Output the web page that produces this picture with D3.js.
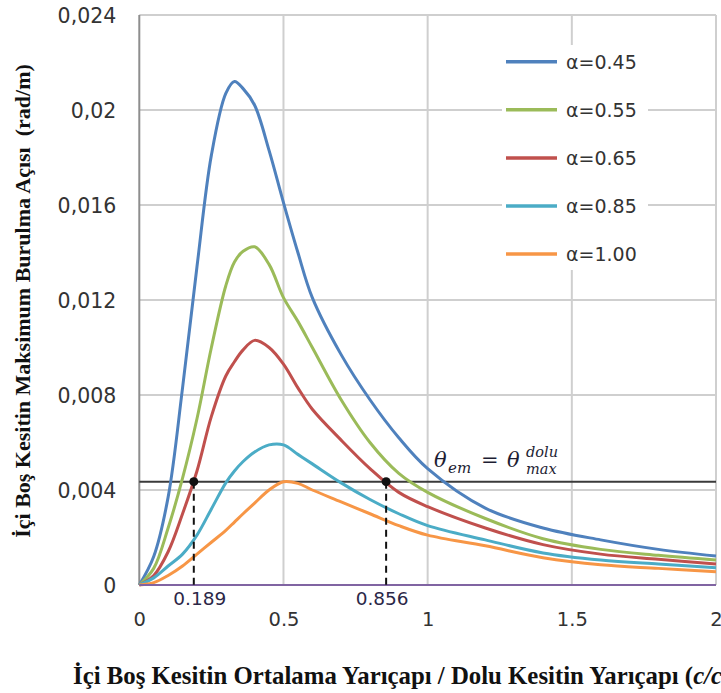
<!DOCTYPE html>
<html>
<head>
<meta charset="utf-8">
<script src="https://cdn.jsdelivr.net/npm/d3@7"></script>
<style>
  body { margin: 0; background: #fff; }
  svg { display: block; }
</style>
</head>
<body>
<svg id="chart" width="721" height="693"></svg>
<script>
// c/c0 ratio sampled along the horizontal axis
const ratio = [0, 0.05, 0.1, 0.15, 0.2, 0.25, 0.3, 0.33, 0.36, 0.4, 0.45, 0.5, 0.55, 0.6, 0.7, 0.8, 0.9, 1.0, 1.2, 1.4, 1.6, 1.8, 2.0];

// maximum twist angle (rad/m) of the hollow section for each alpha
const twistA045 = [0, 0.0012, 0.0037, 0.0083, 0.0134, 0.0181, 0.0207, 0.0212, 0.0209, 0.0202, 0.0183, 0.0161, 0.0140, 0.0121, 0.0097, 0.0078, 0.0062, 0.0049, 0.00324, 0.0024, 0.0019, 0.0015, 0.00122];
const twistA055 = [0, 0.0007, 0.0024, 0.0045, 0.0070, 0.0100, 0.0126, 0.0136, 0.01405, 0.01424, 0.0135, 0.0121, 0.0111, 0.0100, 0.0078, 0.0060, 0.0047, 0.0039, 0.0028, 0.00195, 0.0015, 0.00125, 0.00105];
const twistA065 = [0, 0.0004, 0.0014, 0.0030, 0.0048, 0.0071, 0.0088, 0.0094, 0.0099, 0.0103, 0.0100, 0.0093, 0.0083, 0.0074, 0.0061, 0.0049, 0.0039, 0.0033, 0.0024, 0.0017, 0.0013, 0.00108, 0.00088];
const twistA085 = [0, 0.0003, 0.0008, 0.0013, 0.0021, 0.0032, 0.0043, 0.0048, 0.0052, 0.0056, 0.0059, 0.0059, 0.0055, 0.0051, 0.0043, 0.0036, 0.0030, 0.0025, 0.0019, 0.00135, 0.00105, 0.00088, 0.00073];
const twistA100 = [0, 0.0001, 0.0004, 0.0008, 0.0013, 0.0018, 0.0023, 0.00265, 0.0030, 0.00345, 0.0040, 0.00435, 0.00428, 0.0040, 0.0035, 0.0030, 0.0025, 0.0021, 0.00165, 0.00115, 0.00085, 0.00070, 0.00056];

const seriesNames = ["α=0.45", "α=0.55", "α=0.65", "α=0.85", "α=1.00"];
const seriesColors = ["#4f81bd", "#9bbb59", "#c0504d", "#4bacc6", "#f79646"];
const seriesValues = [twistA045, twistA055, twistA065, twistA085, twistA100];

// twist of the solid section and the ratios where alpha=0.65 reaches it
const solidMaxTwist = 0.00435;
const crossingRatios = [0.189, 0.856];
const crossingLabels = ["0.189", "0.856"];

const xTickValues = [0, 0.5, 1, 1.5, 2];
const xTickLabels = ["0", "0.5", "1", "1.5", "2"];
const yTickValues = [0, 0.004, 0.008, 0.012, 0.016, 0.02, 0.024];
const yTickLabels = ["0", "0,004", "0,008", "0,012", "0,016", "0,02", "0,024"];

const svg = d3.select("#chart");
const plotLeft = 139.3, plotRight = 716, plotTop = 15, plotBottom = 585;

const x = d3.scaleLinear().domain([0, 2]).range([plotLeft, plotRight]);
const y = d3.scaleLinear().domain([0, 0.024]).range([plotBottom, plotTop]);

// grid
const grid = svg.append("g");
grid.selectAll("line.h").data(yTickValues.filter(v => v > 0)).join("line")
  .attr("class", "h")
  .attr("x1", plotLeft).attr("x2", plotRight)
  .attr("y1", d => y(d)).attr("y2", d => y(d))
  .attr("stroke", "#cfcfcf").attr("stroke-width", 2);
grid.selectAll("line.v").data(xTickValues.filter(v => v > 0)).join("line")
  .attr("class", "v")
  .attr("x1", d => x(d)).attr("x2", d => x(d))
  .attr("y1", plotTop).attr("y2", plotBottom)
  .attr("stroke", "#cfcfcf").attr("stroke-width", 2);

// vertical axis line
svg.append("line")
  .attr("x1", x(0)).attr("x2", x(0)).attr("y1", plotTop).attr("y2", plotBottom)
  .attr("stroke", "#8e8e8e").attr("stroke-width", 2);

// y tick labels
const yAxis = d3.axisLeft(y).tickValues(yTickValues)
  .tickFormat((d, i) => yTickLabels[i]).tickSize(0).tickPadding(23);
const gy = svg.append("g").attr("transform", `translate(${plotLeft},0)`).call(yAxis);
gy.select(".domain").remove();
gy.selectAll("text")
  .attr("font-family", "DejaVu Sans, sans-serif").attr("font-size", 20.5)
  .attr("fill", "#333").attr("dy", "0.38em");

// x tick labels
const xAxis = d3.axisBottom(x).tickValues(xTickValues)
  .tickFormat((d, i) => xTickLabels[i]).tickSize(0).tickPadding(27);
const gx = svg.append("g").attr("transform", `translate(0,${plotBottom})`).call(xAxis);
gx.select(".domain").remove();
gx.selectAll("text")
  .attr("font-family", "DejaVu Sans, sans-serif").attr("font-size", 19.5)
  .attr("fill", "#333");

// reference line of the solid section
svg.append("line")
  .attr("x1", x(0)).attr("x2", x(2))
  .attr("y1", y(solidMaxTwist)).attr("y2", y(solidMaxTwist))
  .attr("stroke", "#3a3a3a").attr("stroke-width", 2);

// curves
const line = d3.line()
  .x((d, i) => x(ratio[i]))
  .y(d => y(d))
  .curve(d3.curveCatmullRom.alpha(0.5));

svg.append("g").selectAll("path").data(seriesValues).join("path")
  .attr("d", d => line(d))
  .attr("fill", "none")
  .attr("stroke", (d, i) => seriesColors[i])
  .attr("stroke-width", 3)
  .attr("stroke-linejoin", "round");

// baseline series at zero
svg.append("line")
  .attr("x1", x(0)).attr("x2", x(2)).attr("y1", y(0)).attr("y2", y(0))
  .attr("stroke", "#8064a2").attr("stroke-width", 2);

// crossing markers
const marks = svg.append("g");
marks.selectAll("line").data(crossingRatios).join("line")
  .attr("x1", d => x(d)).attr("x2", d => x(d))
  .attr("y1", y(solidMaxTwist)).attr("y2", y(0))
  .attr("stroke", "#111").attr("stroke-width", 2)
  .attr("stroke-dasharray", "7,5");
marks.selectAll("circle").data(crossingRatios).join("circle")
  .attr("cx", d => x(d)).attr("cy", y(solidMaxTwist)).attr("r", 4.5)
  .attr("fill", "#111");
marks.selectAll("text").data(crossingRatios).join("text")
  .attr("x", (d, i) => x(d) + (i === 0 ? 6 : -4))
  .attr("y", 605)
  .attr("text-anchor", "middle")
  .attr("font-family", "DejaVu Sans, sans-serif").attr("font-size", 18.5)
  .attr("fill", "#2b2747")
  .text((d, i) => crossingLabels[i]);

// equation label
const eq = svg.append("g")
  .attr("font-family", "DejaVu Serif, serif").attr("font-style", "italic")
  .attr("fill", "#1d1d33");
eq.append("text").attr("x", 434).attr("y", 467).attr("font-size", 21).text("θ");
eq.append("text").attr("x", 448).attr("y", 473).attr("font-size", 15).text("em");
eq.append("text").attr("x", 481).attr("y", 467).attr("font-size", 21).attr("font-style", "normal").text("=");
eq.append("text").attr("x", 507).attr("y", 467).attr("font-size", 21).text("θ");
eq.append("text").attr("x", 526).attr("y", 457).attr("font-size", 14.5).text("dolu");
eq.append("text").attr("x", 526).attr("y", 474).attr("font-size", 14.5).text("max");

// legend
const legend = svg.append("g");
legend.append("rect").attr("x", 502).attr("y", 45).attr("width", 146).attr("height", 225).attr("fill", "#fff");
const items = legend.selectAll("g.item").data(seriesNames).join("g")
  .attr("class", "item")
  .attr("transform", (d, i) => `translate(0,${61.7 + i * 48.1})`);
items.append("line").attr("x1", 506).attr("x2", 557).attr("y1", 0).attr("y2", 0)
  .attr("stroke", (d, i) => seriesColors[i]).attr("stroke-width", 3.5);
items.append("text").attr("x", 566).attr("y", 0).attr("dy", "0.36em")
  .attr("font-family", "DejaVu Sans, sans-serif").attr("font-size", 19)
  .attr("fill", "#333").text(d => d);

// axis titles
svg.append("text")
  .attr("transform", "translate(30,301) rotate(-90)")
  .attr("text-anchor", "middle")
  .style("white-space", "pre")
  .attr("font-family", "Liberation Serif, serif").attr("font-weight", "bold")
  .attr("font-size", 22).attr("fill", "#111")
  .text("İçi Boş Kesitin Maksimum Burulma Açısı  (rad/m)");

const xt = svg.append("text")
  .attr("x", 73).attr("y", 684)
  .attr("font-family", "Liberation Serif, serif").attr("font-weight", "bold")
  .attr("font-size", 24.8).attr("fill", "#111");
xt.append("tspan").text("İçi Boş Kesitin Ortalama Yarıçapı / Dolu Kesitin Yarıçapı (");
xt.append("tspan").attr("font-style", "italic").text("c/c");
xt.append("tspan").attr("font-size", 16).attr("dy", 5).text("0");
xt.append("tspan").attr("dy", -5).text(")");
</script>
</body>
</html>
